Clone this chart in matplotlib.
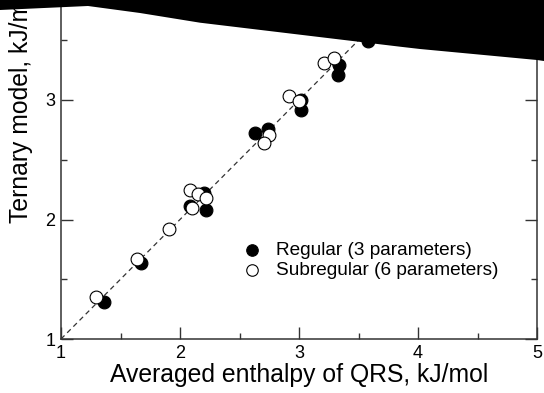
import numpy as np
import matplotlib.pyplot as plt
from matplotlib.patches import Polygon
from matplotlib.ticker import MultipleLocator

plt.rcParams['font.family'] = ['Liberation Sans', 'DejaVu Sans']

# --- data ---
reg_x = [1.36, 1.67, 2.08, 2.20, 2.22, 2.63, 2.74, 3.02, 3.02, 3.34, 3.33, 3.58]
reg_y = [1.31, 1.64, 2.11, 2.22, 2.08, 2.72, 2.76, 3.00, 2.92, 3.29, 3.21, 3.49]

sub_x = [1.29, 1.64, 1.91, 2.08, 2.10, 2.15, 2.22, 2.75, 2.71, 2.92, 3.00, 3.21, 3.29]
sub_y = [1.35, 1.67, 1.92, 2.25, 2.10, 2.21, 2.18, 2.71, 2.64, 3.03, 2.99, 3.31, 3.35]

diag = [1, 5]

# black cover over the top of the scan (figure pixels, y from top)
cover_px = [(0, 10), (88, 6), (140, 13), (200, 22.7), (400, 46.7),
            (420, 49), (537, 60), (544, 61)]

W, H = 544, 393
fig = plt.figure(figsize=(W / 100, H / 100), dpi=100)
ax = fig.add_axes([61 / W, 54 / H, 476 / W, 478 / H])

ax.plot(diag, diag, color='#333333', lw=0.9, ls=(0, (4, 3)), zorder=1)
ax.scatter(reg_x, reg_y, s=85, c='black', edgecolors='black', linewidths=0.8,
           label='Regular (3 parameters)', zorder=2)
ax.scatter(sub_x, sub_y, s=85, c='white', edgecolors='black', linewidths=0.8,
           label='Subregular (6 parameters)', zorder=3)

ax.set_xlim(1, 5)
ax.set_ylim(1, 5)
ax.xaxis.set_major_locator(MultipleLocator(1))
ax.xaxis.set_minor_locator(MultipleLocator(0.5))
ax.yaxis.set_major_locator(MultipleLocator(1))
ax.yaxis.set_minor_locator(MultipleLocator(0.5))
ax.tick_params(which='both', direction='in', top=True, right=True, labelsize=13,
               color='#333333', width=1.0)
ax.tick_params(which='major', length=8.5, pad=4)
ax.tick_params(which='minor', length=4.5)
for s in ax.spines.values():
    s.set_linewidth(1.1)
    s.set_color('#333333')

ax.set_xlabel('Averaged enthalpy of QRS, kJ/mol', fontsize=17.8, labelpad=1)
fig.text(21 / W, 1 - 223 / H, 'Ternary model, kJ/mol', rotation=90,
         ha='center', va='bottom', fontsize=17.8)

ax.legend(loc='upper left', bbox_to_anchor=(242 / W, 1 - 242 / H),
          bbox_transform=fig.transFigure, frameon=False, fontsize=13.7,
          borderpad=0, borderaxespad=0, handlelength=1.0, handletextpad=0.8,
          labelspacing=0.15, markerscale=0.9)

verts = [(x / W, 1 - y / H) for x, y in cover_px] + [(1, 1), (0, 1)]
fig.patches.append(Polygon(verts, closed=True, facecolor='black', edgecolor='none',
                           transform=fig.transFigure, zorder=10))

fig.savefig('out.png', dpi=100)
